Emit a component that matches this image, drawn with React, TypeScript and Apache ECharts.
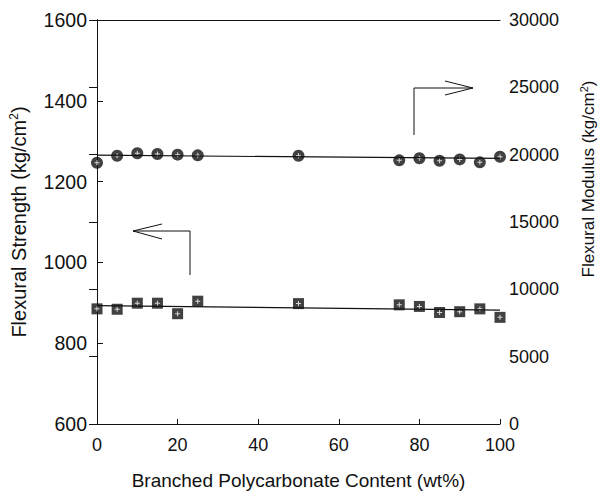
import React, { useEffect, useRef } from "react";
import * as echarts from "echarts";

const xValues = [0, 5, 10, 15, 20, 25, 50, 75, 80, 85, 90, 95, 100];
const modulus = [19400, 19920, 20100, 20050, 20000, 19950, 19920, 19580, 19730, 19550, 19650, 19430, 19850];
const strength = [885, 884, 899, 899, 873, 904, 898, 895, 891, 876, 878, 885, 864];
const fitX = [0, 100];
const modulusFit = [19960, 19720];
const strengthFit = [893, 882];
const xTicks = [0, 20, 40, 60, 80, 100];
const leftTicks = [600, 800, 1000, 1200, 1400, 1600];
const rightTicks = [0, 5000, 10000, 15000, 20000, 25000, 30000];

const FONT = "'Liberation Sans', Arial, sans-serif";
const INK = "#111";
const PLUS = "path://M2,0H3V2H5V3H3V5H2V3H0V2H2Z";

export default function App() {
  const ref = useRef<HTMLDivElement>(null);
  useEffect(() => {
    if (!ref.current) return;
    const chart = echarts.init(ref.current, undefined, { renderer: "svg", width: 600, height: 491 });
    const pair = (xs: number[], ys: number[]) => xs.map((x, i) => [x, ys[i]]);
    const fmt = (v: number) => String(v);
    const labelStyle = (fs: number) => ({ color: INK, fontSize: fs, fontFamily: FONT, formatter: fmt });
    const nameStyle = (fs: number) => ({
      color: INK,
      fontSize: fs,
      fontFamily: FONT,
      rich: { sup: { fontSize: Math.round(fs * 0.62), fontFamily: FONT, color: INK, padding: [0, 0, 9, 0] } },
    });
    const line = { show: true, lineStyle: { color: INK, width: 1 } };
    chart.setOption({
      animation: false,
      backgroundColor: "#fff",
      grid: { left: 97, right: 100, top: 20, bottom: 67, outerBoundsMode: "none", containLabel: false },
      xAxis: [
        {
          type: "value",
          min: xTicks[0],
          max: xTicks[xTicks.length - 1],
          interval: 20,
          axisLine: line,
          axisTick: { show: true, inside: true, length: 5, lineStyle: { color: INK } },
          splitLine: { show: false },
          axisLabel: { ...labelStyle(18), margin: 12 },
          name: "Branched Polycarbonate Content (wt%)",
          nameLocation: "middle",
          nameGap: 47,
          nameTextStyle: nameStyle(19),
        },
        {
          type: "value",
          position: "top",
          min: 0,
          max: 100,
          axisLine: line,
          axisTick: { show: false },
          axisLabel: { show: false },
          splitLine: { show: false },
        },
      ],
      yAxis: [
        {
          type: "value",
          min: leftTicks[0],
          max: leftTicks[leftTicks.length - 1],
          interval: 200,
          axisLine: line,
          axisTick: { show: true, inside: true, length: 6, lineStyle: { color: INK } },
          splitLine: { show: false },
          axisLabel: { ...labelStyle(19.5), margin: 10 },
          name: "Flexural Strength (kg/cm{sup|2})",
          nameLocation: "middle",
          nameGap: 68,
          nameTextStyle: nameStyle(20),
        },
        {
          type: "value",
          position: "right",
          min: rightTicks[0],
          max: rightTicks[rightTicks.length - 1],
          interval: 5000,
          axisLine: line,
          axisTick: { show: true, inside: true, length: 8, lineStyle: { color: INK } },
          splitLine: { show: false },
          axisLabel: { ...labelStyle(18), margin: 9 },
        },
      ],
      series: [
        {
          type: "line",
          yAxisIndex: 1,
          data: pair(fitX, modulusFit),
          symbol: "none",
          lineStyle: { color: INK, width: 1.2 },
        },
        {
          type: "line",
          yAxisIndex: 0,
          data: pair(fitX, strengthFit),
          symbol: "none",
          lineStyle: { color: INK, width: 1.2 },
        },
        {
          type: "scatter",
          yAxisIndex: 1,
          data: pair(xValues, modulus),
          symbol: "circle",
          symbolSize: 12,
          itemStyle: { color: INK },
        },
        {
          type: "scatter",
          yAxisIndex: 0,
          data: pair(xValues, strength),
          symbol: "rect",
          symbolSize: 11,
          itemStyle: { color: INK },
        },
        {
          type: "scatter",
          yAxisIndex: 1,
          data: pair(xValues, modulus),
          symbol: PLUS,
          symbolSize: 5,
          itemStyle: { color: "#fff" },
        },
        {
          type: "scatter",
          yAxisIndex: 0,
          data: pair(xValues, strength),
          symbol: PLUS,
          symbolSize: 5,
          itemStyle: { color: "#fff" },
        },
      ],
      graphic: [
        {
          type: "text",
          x: 588,
          y: 179,
          rotation: Math.PI / 2,
          style: {
            text: "Flexural Modulus (kg/cm{sup|2})",
            fill: INK,
            fontSize: 17,
            fontFamily: FONT,
            align: "center",
            verticalAlign: "middle",
            rich: { sup: { fontSize: 11, fontFamily: FONT, fill: INK, padding: [0, 0, 8, 0] } },
          },
        },
        {
          type: "polyline",
          shape: { points: [[190, 275], [190, 231], [133, 231]] },
          style: { stroke: INK, lineWidth: 1, fill: null },
        },
        {
          type: "polyline",
          shape: { points: [[162, 224], [133, 231], [162, 239]] },
          style: { stroke: INK, lineWidth: 1, fill: null },
        },
        {
          type: "polyline",
          shape: { points: [[414, 135], [414, 88], [473, 88]] },
          style: { stroke: INK, lineWidth: 1, fill: null },
        },
        {
          type: "polyline",
          shape: { points: [[445, 81], [473, 88], [445, 95]] },
          style: { stroke: INK, lineWidth: 1, fill: null },
        },
      ],
    });
    return () => chart.dispose();
  }, []);
  return <div ref={ref} style={{ width: 600, height: 491, position: "absolute", left: 0, top: 0 }} />;
}
